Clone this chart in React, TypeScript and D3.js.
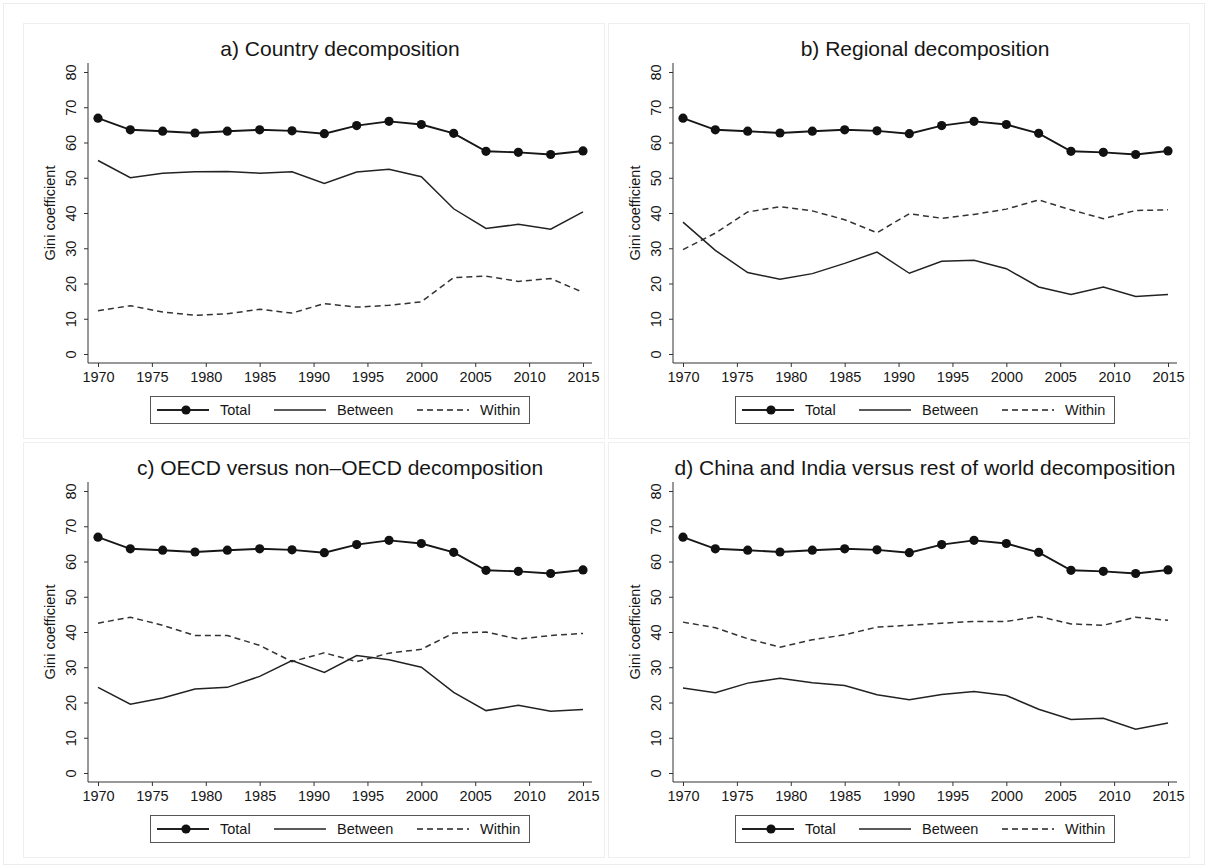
import { useEffect, useRef } from "react";
import * as d3 from "d3";

// Years sampled every 3 years
const years = [1970, 1973, 1976, 1979, 1982, 1985, 1988, 1991, 1994, 1997, 2000, 2003, 2006, 2009, 2012, 2015];

// Total global Gini (identical in every panel)
const total = [66.9, 63.6, 63.2, 62.7, 63.2, 63.6, 63.3, 62.5, 64.8, 66.0, 65.1, 62.6, 57.5, 57.2, 56.6, 57.6];

const countryBetween = [54.9, 50.0, 51.3, 51.7, 51.8, 51.3, 51.7, 48.4, 51.6, 52.4, 50.3, 41.2, 35.6, 36.8, 35.4, 40.3];
const countryWithin = [12.3, 13.7, 11.9, 11.0, 11.4, 12.7, 11.6, 14.3, 13.3, 13.8, 14.8, 21.7, 22.1, 20.6, 21.4, 17.5];

const regionalBetween = [37.4, 29.4, 23.1, 21.2, 22.8, 25.7, 28.9, 22.9, 26.3, 26.6, 24.2, 19.0, 16.9, 19.0, 16.3, 16.9];
const regionalWithin = [29.6, 34.3, 40.3, 41.8, 40.6, 38.1, 34.4, 39.8, 38.5, 39.6, 41.1, 43.7, 40.9, 38.4, 40.7, 40.9];

const oecdBetween = [24.3, 19.5, 21.3, 23.8, 24.3, 27.4, 31.9, 28.5, 33.3, 32.1, 30.0, 22.9, 17.7, 19.2, 17.5, 18.0];
const oecdWithin = [42.5, 44.2, 41.9, 39.0, 39.0, 36.2, 31.6, 34.1, 31.6, 34.0, 35.1, 39.7, 40.0, 38.0, 39.0, 39.6];

const chinaIndiaBetween = [24.1, 22.8, 25.5, 26.9, 25.6, 24.8, 22.2, 20.8, 22.3, 23.1, 22.0, 18.1, 15.2, 15.5, 12.4, 14.2];
const chinaIndiaWithin = [42.8, 41.2, 38.1, 35.7, 37.8, 39.2, 41.4, 41.9, 42.5, 43.0, 43.0, 44.4, 42.3, 41.9, 44.2, 43.3];

const panelTitles = [
  "a) Country decomposition",
  "b) Regional decomposition",
  "c) OECD versus non\u2013OECD decomposition",
  "d) China and India versus rest of world decomposition",
];
const betweenSeries = [countryBetween, regionalBetween, oecdBetween, chinaIndiaBetween];
const withinSeries = [countryWithin, regionalWithin, oecdWithin, chinaIndiaWithin];

const yTicks = [0, 10, 20, 30, 40, 50, 60, 70, 80];
const xTicks = [1970, 1975, 1980, 1985, 1990, 1995, 2000, 2005, 2010, 2015];
const legendLabels = ["Total", "Between", "Within"];

const FONT = "'Liberation Sans', Arial, Helvetica, sans-serif";
const INK = "#161616";

export default function App() {
  const svgRef = useRef<SVGSVGElement>(null);

  useEffect(() => {
    if (!svgRef.current) return;
    const svg = d3.select(svgRef.current);
    svg.selectAll("*").remove();

    svg.append("rect").attr("width", 1208).attr("height", 868).attr("fill", "#fff");
    svg.append("rect")
      .attr("x", 3.5).attr("y", 3.5).attr("width", 1201).attr("height", 861)
      .attr("fill", "none").attr("stroke", "#ececec");

    const offsets = [[0, 0], [585, 0], [0, 419], [585, 419]];

    offsets.forEach(([ox, oy], p) => {
      const g = svg.append("g").attr("transform", `translate(${ox},${oy})`);

      // panel frame
      g.append("rect")
        .attr("x", 23.5).attr("y", 23.5).attr("width", 581).attr("height", 415)
        .attr("fill", "#fff").attr("stroke", "#efefef");

      const x = d3.scaleLinear().domain([1970, 2015]).range([98, 583]);
      const y = d3.scaleLinear().domain([0, 80]).range([354, 72]);

      // title
      g.append("text")
        .attr("x", 340).attr("y", 55.5)
        .attr("text-anchor", "middle")
        .attr("font-family", FONT).attr("font-size", "21px")
        .attr("fill", INK)
        .text(panelTitles[p]);

      // y axis title
      g.append("text")
        .attr("transform", `translate(55,213) rotate(-90)`)
        .attr("text-anchor", "middle")
        .attr("font-family", FONT).attr("font-size", "14.5px")
        .attr("fill", INK)
        .text("Gini coefficient");

      // axes
      const yAxis = d3.axisLeft(y).tickValues(yTicks).tickSize(4).tickSizeOuter(0);
      const yg = g.append("g").attr("transform", "translate(88,0)").call(yAxis);
      yg.select(".domain").remove();
      yg.append("line").attr("x1", 0).attr("x2", 0).attr("y1", 63).attr("y2", 363)
        .attr("stroke", "#333");
      yg.selectAll(".tick line").attr("stroke", "#333");
      yg.selectAll(".tick text")
        .attr("transform", "rotate(-90)")
        .attr("x", 0).attr("y", -12).attr("dy", "0")
        .attr("text-anchor", "middle")
        .attr("font-family", FONT).attr("font-size", "14.5px")
        .attr("fill", INK);

      const xAxis = d3.axisBottom(x).tickValues(xTicks).tickSize(4).tickSizeOuter(0)
        .tickFormat(d => `${d}`);
      const xg = g.append("g").attr("transform", "translate(0,363)").call(xAxis);
      xg.select(".domain").remove();
      xg.append("line").attr("x1", 88).attr("x2", 592).attr("y1", 0).attr("y2", 0)
        .attr("stroke", "#333");
      xg.selectAll(".tick line").attr("stroke", "#333");
      xg.selectAll(".tick text")
        .attr("y", 9)
        .attr("font-family", FONT).attr("font-size", "14.5px")
        .attr("fill", INK);

      const line = d3.line<number>()
        .x((_, i) => x(years[i]))
        .y(d => y(d));

      // within (dashed)
      g.append("path")
        .datum(withinSeries[p])
        .attr("fill", "none").attr("stroke", "#333")
        .attr("stroke-width", 1.5)
        .attr("stroke-dasharray", "6,4")
        .attr("d", line);

      // between (solid)
      g.append("path")
        .datum(betweenSeries[p])
        .attr("fill", "none").attr("stroke", "#222")
        .attr("stroke-width", 1.5)
        .attr("d", line);

      // total with markers
      g.append("path")
        .datum(total)
        .attr("fill", "none").attr("stroke", "#161616")
        .attr("stroke-width", 1.9)
        .attr("d", line);
      g.selectAll(".dot")
        .data(total)
        .join("circle")
        .attr("cx", (_, i) => x(years[i]))
        .attr("cy", d => y(d))
        .attr("r", 4.6)
        .attr("fill", "#111");

      // legend
      const lg = g.append("g").attr("transform", "translate(150,396)");
      lg.append("rect")
        .attr("x", 0.5).attr("y", 0.5).attr("width", 379).attr("height", 27)
        .attr("fill", "#fff").attr("stroke", "#555");
      const itemX = [7, 124, 267];
      legendLabels.forEach((label, k) => {
        const lx = itemX[k];
        lg.append("line")
          .attr("x1", lx).attr("x2", lx + 52)
          .attr("y1", 14).attr("y2", 14)
          .attr("stroke", "#222")
          .attr("stroke-width", k === 0 ? 1.9 : 1.5)
          .attr("stroke-dasharray", k === 2 ? "6,4" : null);
        if (k === 0) {
          lg.append("circle").attr("cx", lx + 29).attr("cy", 14).attr("r", 4.6).attr("fill", "#111");
        }
        lg.append("text")
          .attr("x", lx + 63).attr("y", 19)
          .attr("font-family", FONT).attr("font-size", "14.5px")
          .attr("fill", INK)
          .text(label);
      });
    });
  }, []);

  return (
    <svg
      ref={svgRef}
      width={1208}
      height={868}
      style={{ position: "absolute", left: 0, top: 0 }}
    />
  );
}
